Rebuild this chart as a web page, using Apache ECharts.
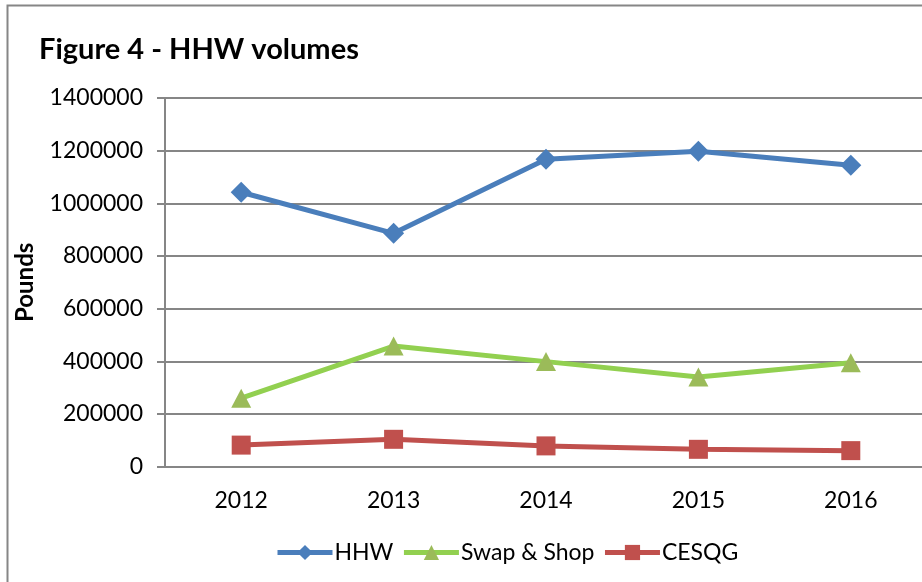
<!DOCTYPE html>
<html><head><meta charset="utf-8">
<script src="https://cdn.jsdelivr.net/npm/echarts@6/dist/echarts.min.js"></script>
<style>html,body{margin:0;padding:0;background:#fff}#c{width:922px;height:582px}</style>
</head><body><div id="c"></div>
<script>
const categories = ['2012','2013','2014','2015','2016'];
const hhw = [1042000, 886000, 1167000, 1198000, 1145000];
const swapShop = [260000, 458000, 399000, 341000, 395000];
const cesqg = [82000, 104000, 79000, 66000, 61000];
const yTicks = [0, 200000, 400000, 600000, 800000, 1000000, 1200000, 1400000];

const FONT = 'Lato';
const chart = echarts.init(document.getElementById('c'), null, {renderer:'canvas'});
chart.setOption({
  animation:false,
  backgroundColor:'#fff',
  textStyle:{fontFamily:FONT},
  graphic:[{type:'rect', shape:{x:7.5,y:5.5,width:1000,height:700}, style:{fill:'none', stroke:'#868686', lineWidth:2}, silent:true, z:-1}],
  title:{text:'Figure 4 - HHW volumes', left:34, top:30,
    textStyle:{fontFamily:FONT, fontWeight:'bold', fontSize:29, color:'#000'}},
  grid:{left:165, top:98, width:762, height:368.7, containLabel:false, outerBoundsMode:'none'},
  legend:{bottom:18, left:275, padding:0, itemWidth:55, itemHeight:19, itemGap:8,
    lineStyle:{width:5},
    textStyle:{fontFamily:FONT, fontSize:23, color:'#000', padding:[0,0,0,-3]},
    data:['HHW','Swap & Shop','CESQG']},
  xAxis:{type:'category', data:categories, boundaryGap:true,
    axisLine:{lineStyle:{color:'#868686', width:2}}, axisTick:{show:false},
    axisLabel:{fontFamily:FONT, fontSize:23, color:'#000', margin:22}},
  yAxis:{type:'value', min:0, max:1400000, interval:200000,
    name:'Pounds', nameLocation:'middle', nameGap:128, nameRotate:90,
    nameTextStyle:{fontFamily:FONT, fontWeight:'bold', fontSize:24, color:'#000'},
    axisLine:{show:true, lineStyle:{color:'#868686', width:2}},
    axisTick:{show:true, length:8, lineStyle:{color:'#868686', width:2}},
    splitLine:{lineStyle:{color:'#868686', width:2}},
    axisLabel:{fontFamily:FONT, fontSize:23, color:'#000', margin:22,
      formatter:function(v){return yTicks.indexOf(v)>=0?String(v):'';}}},
  series:[
    {name:'HHW', type:'line', data:hhw, symbol:'diamond', symbolSize:21,
      lineStyle:{color:'#4A7EBB', width:5}, itemStyle:{color:'#4A7EBB'}},
    {name:'Swap & Shop', type:'line', data:swapShop, symbol:'triangle', symbolSize:[20,19],
      lineStyle:{color:'#92D050', width:5}, itemStyle:{color:'#9BBB59'}},
    {name:'CESQG', type:'line', data:cesqg, symbol:'rect', symbolSize:19,
      lineStyle:{color:'#C0504D', width:5}, itemStyle:{color:'#C0504D'}}
  ]
});
</script></body></html>
